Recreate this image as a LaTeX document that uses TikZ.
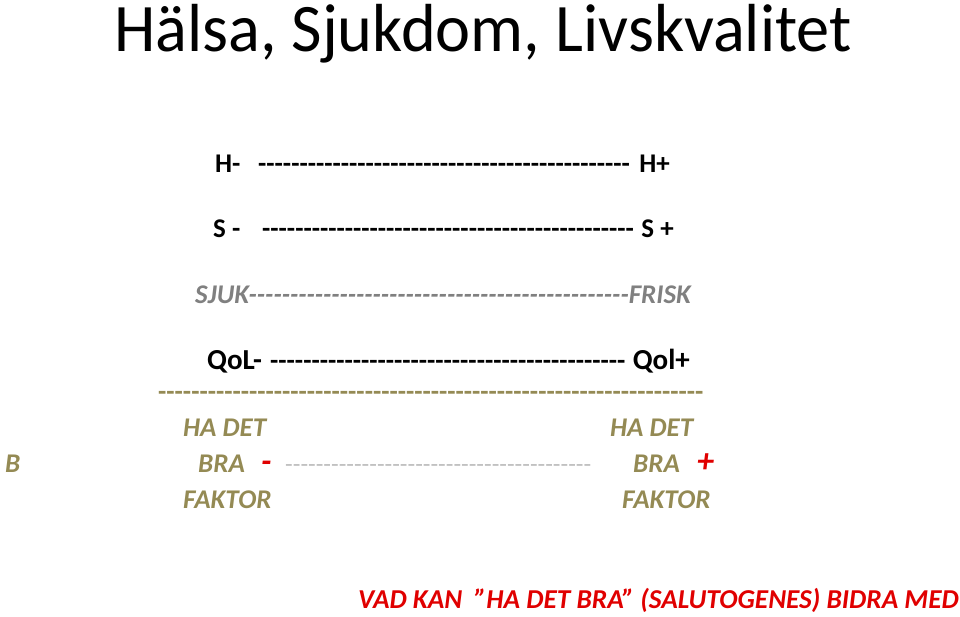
\documentclass[tikz,border=0pt]{standalone}
\usepackage{fontspec}
\setmainfont{Carlito}
\usetikzlibrary{positioning}
\definecolor{olivetext}{HTML}{948A54}
\definecolor{sjukgray}{HTML}{808080}
\definecolor{dashgray}{HTML}{BFBFBF}
\definecolor{redtext}{HTML}{E00000}
\newcommand{\dashrow}[1]{\foreach \i in {1,...,#1}{-\kern0pt}}
\tikzset{
    rowtext/.style={anchor=base west, inner sep=0pt, font=\fontsize{27}{30}\selectfont\bfseries},
    rowend/.style={rowtext, anchor=base east},
    factext/.style={rowtext, font=\fontsize{27}{30}\selectfont\bfseries\itshape, text=olivetext},
    redsign/.style={rowtext, font=\fontsize{34}{36}\selectfont\bfseries\itshape, text=redtext}
}

\begin{document}
\begin{tikzpicture}[x=1pt, y=-1pt]
    \useasboundingbox (0,0) rectangle (960,617);

    \node[anchor=base west, inner sep=0pt, xscale=0.975, font=\fontsize{68}{72}\selectfont] (title) at (114,52) {Hälsa, Sjukdom, Livskvalitet};

    % halsa
    \node[rowtext] (hminus) at (215,173) {H-};
    \node[rowtext] (hdash) at (258,173) {\dashrow{45}};
    \node[rowend] (hplus) at (670,173) {H+};

    % sjukdom
    \node[rowtext] (sminus) at (213,238) {S -};
    \node[rowtext] (sdash) at (262,238) {\dashrow{45}};
    \node[rowend] (splus) at (674,238) {S +};

    \node[rowtext, font=\fontsize{27}{30}\selectfont\bfseries\itshape, text=sjukgray] (sjuk) at (195,304) {SJUK\dashrow{46}FRISK};

    % livskvalitet
    \node[rowtext, font=\fontsize{29}{30}\selectfont\bfseries] (qolminus) at (207,369) {QoL-};
    \node[rowtext] (qoldash) at (270,369) {\dashrow{43}};
    \node[rowend, font=\fontsize{29}{30}\selectfont\bfseries] (qolplus) at (690,369) {Qol+};

    \node[rowtext, text=olivetext] (divider) at (158,400) {\dashrow{66}};

    % ha det bra faktor
    \node[factext] (hadetL) at (183,436) {HA DET};
    \node[factext] (hadetR) at (610,436) {HA DET};
    \node[factext] (bleft) at (5,472) {B};
    \node[factext] (braL) at (198,472) {BRA};
    \node[redsign] (braminus) at (261,472) {-};
    \node[rowtext, font=\fontsize{25}{30}\selectfont, text=dashgray] (bradash) at (285,472) {\dashrow{40}};
    \node[factext] (braR) at (633,472) {BRA};
    \node[redsign] (braplus) at (697,472) {+};
    \node[factext] (faktorL) at (183,508) {FAKTOR};
    \node[factext] (faktorR) at (622,508) {FAKTOR};

    \node[rowtext, font=\fontsize{27.3}{30}\selectfont\bfseries\itshape, text=redtext] (salut) at (358,608) {VAD KAN \ ”HA DET BRA” (SALUTOGENES) BIDRA MED};

\end{tikzpicture}
\end{document}
